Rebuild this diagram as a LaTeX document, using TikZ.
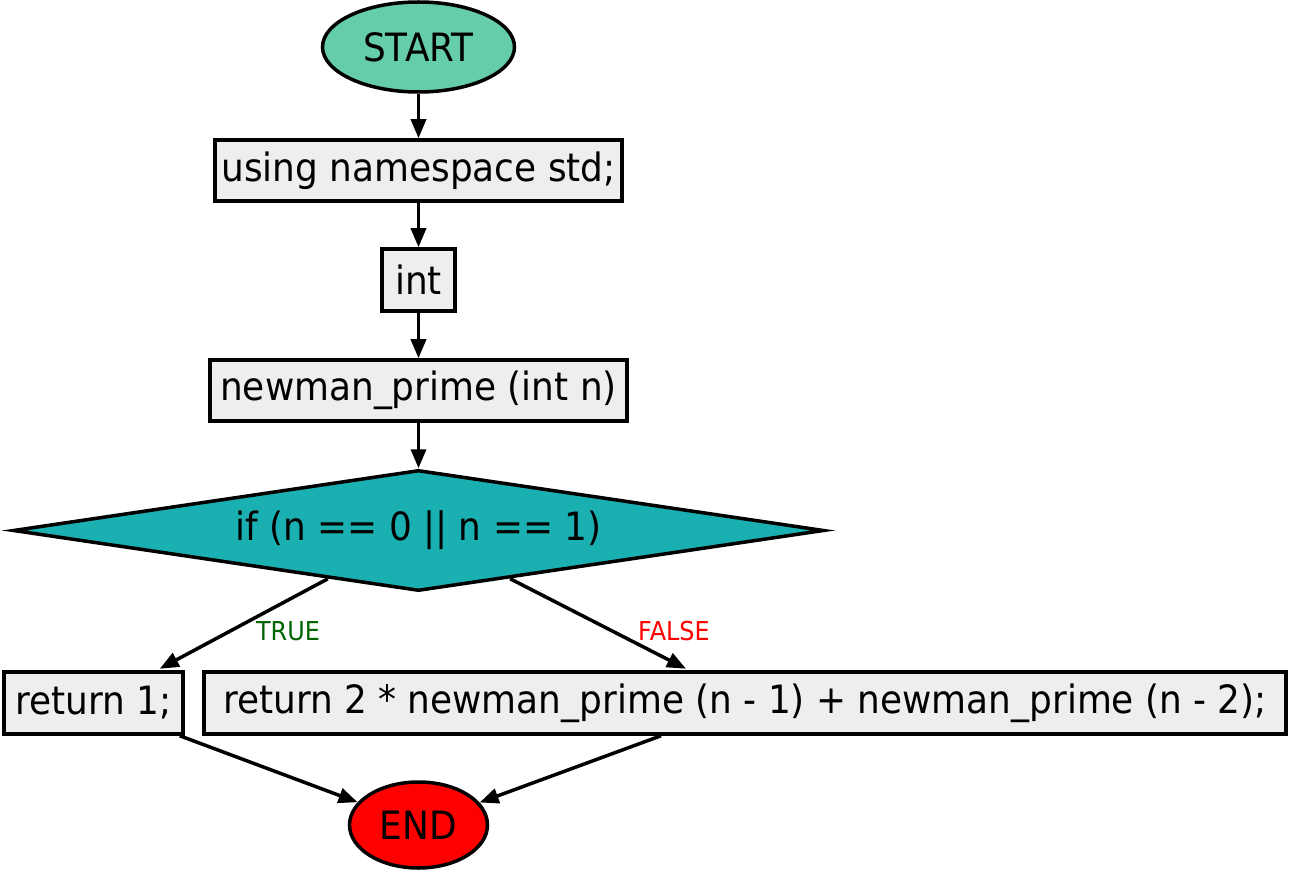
\documentclass[tikz,border=0pt]{standalone}
\usepackage{fontspec}
\setmainfont{DejaVu Sans}[FakeStretch=0.92]
\usetikzlibrary{shapes.geometric,arrows.meta,calc}
\definecolor{startc}{HTML}{66CDAA}
\definecolor{boxc}{HTML}{EEEEEE}
\definecolor{decc}{HTML}{1AAFB0}
\definecolor{truec}{HTML}{006400}
\begin{document}
\begin{tikzpicture}[x=1pt,y=-1pt,
  every node/.style={font=\fontsize{39}{42}\selectfont, inner sep=0pt, line width=3.5pt},
  stepbox/.style={draw, rectangle, fill=boxc},
  term/.style={draw, ellipse},
  flow/.style={line width=3.5pt, -{Triangle[length=19pt,width=15pt]}},
  lbl/.style={font=\fontsize{26}{28}\selectfont}]
\useasboundingbox (0,0) rectangle (1291,874);
\node[term, fill=startc, minimum width=192pt, minimum height=90pt] (start) at (418.5,47) {START};
\node[stepbox, minimum width=407pt, minimum height=61pt] (using) at (418.5,170.5) {using namespace std;};
\node[stepbox, minimum width=73pt, minimum height=62pt] (int) at (418.5,280) {int};
\node[stepbox, minimum width=417pt, minimum height=61pt] (fn) at (418.5,390.5) {newman\_prime (int n)};
\node[draw, diamond, fill=decc, aspect=6.7, minimum width=811pt, minimum height=121pt] (dec) at (418.5,530.5) {if (n == 0 || n == 1)};
\node[stepbox, minimum width=179pt, minimum height=62pt] (r1) at (93.5,703) {return 1;};
\node[stepbox, minimum width=1082pt, minimum height=62pt] (r2) at (745,703) {return 2 * newman\_prime (n - 1) + newman\_prime (n - 2);};
\node[term, fill=red, minimum width=138pt, minimum height=86pt] (endn) at (418.5,825) {END};
\node[lbl, text=truec] (tlab) at (288,631) {TRUE};
\node[lbl, text=red] (flab) at (674,631) {FALSE};

\draw[flow] (start) -- (using);
\draw[flow] (using) -- (int);
\draw[flow] (int) -- (fn);
\draw[flow] (fn) -- (dec);
\draw[flow] ($(dec.south)!0.223!(dec.west)$) -- ($(r1.north east)+(-25,-1.5)$);
\draw[flow] ($(dec.south)!0.225!(dec.east)$) -- ($(r2.north)+(-59,-1.5)$);
\draw[flow] ($(r1.south east)+(-5,0)$) -- (endn);
\draw[flow] ($(r2.south)+(-84,0)$) -- (endn);
\end{tikzpicture}
\end{document}
